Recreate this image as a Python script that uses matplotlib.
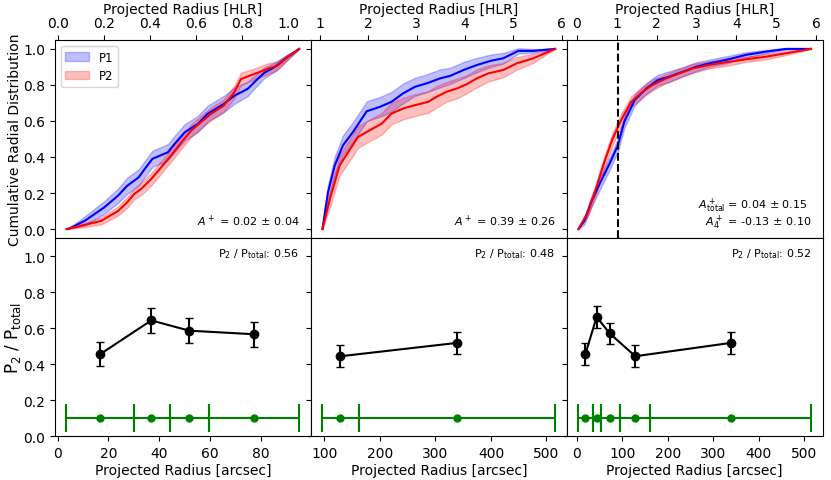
import matplotlib
matplotlib.use("Agg")
import matplotlib.pyplot as plt
import numpy as np

# ---- cumulative radial distributions (x in HLR) ----
# inner region (< 1 HLR)
in_p1_x = [0.043, 0.116, 0.20, 0.26, 0.30, 0.35, 0.376, 0.41, 0.477, 0.50, 0.55, 0.607, 0.65, 0.72, 0.766, 0.824, 0.86, 0.896, 0.94, 0.997, 1.048]
in_p1_y = [0.0, 0.046, 0.12, 0.185, 0.24, 0.287, 0.333, 0.39, 0.426, 0.463, 0.537, 0.583, 0.64, 0.694, 0.74, 0.778, 0.824, 0.867, 0.898, 0.954, 1.0]
in_p1_e = [0.0, 0.025, 0.035, 0.04, 0.045, 0.045, 0.045, 0.045, 0.045, 0.045, 0.045, 0.045, 0.045, 0.045, 0.045, 0.04, 0.035, 0.03, 0.025, 0.015, 0.0]
in_p2_x = [0.036, 0.10, 0.188, 0.26, 0.30, 0.33, 0.36, 0.405, 0.448, 0.49, 0.535, 0.578, 0.62, 0.665, 0.72, 0.766, 0.795, 0.853, 0.91, 0.954, 0.997, 1.048]
in_p2_y = [0.0, 0.018, 0.046, 0.10, 0.148, 0.194, 0.222, 0.278, 0.343, 0.407, 0.48, 0.546, 0.593, 0.64, 0.685, 0.76, 0.833, 0.861, 0.889, 0.907, 0.954, 1.0]
in_p2_e = [0.0, 0.01, 0.02, 0.025, 0.03, 0.03, 0.035, 0.035, 0.035, 0.035, 0.035, 0.035, 0.035, 0.035, 0.035, 0.035, 0.035, 0.03, 0.03, 0.025, 0.015, 0.0]

# outer region (> 1 HLR)
out_p1_x = [1.055, 1.17, 1.31, 1.48, 1.69, 1.97, 2.24, 2.48, 2.72, 2.97, 3.21, 3.48, 3.69, 3.97, 4.24, 4.52, 4.79, 5.10, 5.41, 5.86]
out_p1_y = [0.0, 0.204, 0.353, 0.465, 0.54, 0.654, 0.678, 0.706, 0.753, 0.79, 0.809, 0.836, 0.85, 0.883, 0.91, 0.933, 0.948, 0.989, 0.989, 1.0]
out_p1_e = [0.0, 0.04, 0.05, 0.055, 0.055, 0.055, 0.055, 0.055, 0.055, 0.05, 0.05, 0.05, 0.045, 0.045, 0.04, 0.035, 0.03, 0.015, 0.01, 0.0]
out_p2_x = [1.055, 1.21, 1.41, 1.59, 1.79, 2.03, 2.28, 2.48, 2.72, 2.97, 3.24, 3.41, 3.62, 3.83, 4.03, 4.24, 4.48, 4.79, 5.07, 5.41, 5.86]
out_p2_y = [0.0, 0.167, 0.353, 0.428, 0.511, 0.548, 0.585, 0.641, 0.669, 0.688, 0.706, 0.734, 0.762, 0.78, 0.803, 0.836, 0.864, 0.883, 0.92, 0.948, 1.0]
out_p2_e = [0.0, 0.045, 0.055, 0.06, 0.06, 0.06, 0.06, 0.06, 0.06, 0.06, 0.06, 0.06, 0.055, 0.055, 0.05, 0.05, 0.045, 0.04, 0.035, 0.025, 0.0]

# total
tot_p1_x = [0.04, 0.19, 0.36, 0.57, 0.82, 1.03, 1.19, 1.45, 1.74, 2.03, 2.32, 2.66, 2.99, 3.32, 3.74, 4.24, 4.75, 5.25, 5.87]
tot_p1_y = [0.0, 0.046, 0.149, 0.25, 0.362, 0.465, 0.595, 0.716, 0.78, 0.827, 0.846, 0.874, 0.901, 0.92, 0.939, 0.967, 0.985, 1.0, 1.0]
tot_p1_e = [0.0, 0.02, 0.03, 0.035, 0.035, 0.035, 0.035, 0.03, 0.03, 0.03, 0.03, 0.025, 0.025, 0.02, 0.02, 0.015, 0.01, 0.005, 0.0]
tot_p2_x = [0.04, 0.28, 0.48, 0.69, 0.90, 1.11, 1.36, 1.65, 1.90, 2.24, 2.57, 2.91, 3.32, 3.74, 4.24, 4.75, 5.25, 5.87]
tot_p2_y = [0.0, 0.093, 0.223, 0.372, 0.502, 0.604, 0.706, 0.762, 0.80, 0.836, 0.864, 0.892, 0.911, 0.926, 0.942, 0.957, 0.976, 1.0]
tot_p2_e = [0.0, 0.02, 0.03, 0.035, 0.035, 0.035, 0.03, 0.03, 0.03, 0.025, 0.025, 0.025, 0.02, 0.02, 0.015, 0.015, 0.01, 0.0]

# asymmetry annotations, one list of lines per panel
asym_texts = [[r"$A^+$ = 0.02 $\pm$ 0.04"],
              [r"$A^+$ = 0.39 $\pm$ 0.26"],
              [r"$A^+_{\rm total}$ = 0.04 $\pm$ 0.15", r"$A^+_4$ = -0.13 $\pm$ 0.10"]]
split_hlr = 1.045

# ---- P2 / Ptotal in radial bins (x in arcsec) ----
in_r = [16.8, 36.9, 51.8, 77.4]
in_frac = [0.456, 0.643, 0.586, 0.566]
in_frac_err = [0.068, 0.068, 0.068, 0.068]
in_edges = [3.5, 30.0, 44.1, 59.8, 95.1]

out_r = [128.8, 338.7]
out_frac = [0.444, 0.518]
out_frac_err = [0.06, 0.059]
out_edges = [96.4, 161.8, 515.6]

tot_r = [18.9, 43.7, 72.3, 128.8, 338.7]
tot_frac = [0.456, 0.662, 0.571, 0.444, 0.518]
tot_frac_err = [0.06, 0.06, 0.06, 0.06, 0.06]
tot_edges = [3.5, 35.0, 52.5, 95.1, 161.8, 515.6]

frac_totals = [0.56, 0.48, 0.52]

cdfs = [
    (in_p1_x, in_p1_y, in_p1_e, in_p2_x, in_p2_y, in_p2_e),
    (out_p1_x, out_p1_y, out_p1_e, out_p2_x, out_p2_y, out_p2_e),
    (tot_p1_x, tot_p1_y, tot_p1_e, tot_p2_x, tot_p2_y, tot_p2_e),
]
bins = [
    (in_r, in_frac, in_frac_err, in_edges),
    (out_r, out_frac, out_frac_err, out_edges),
    (tot_r, tot_frac, tot_frac_err, tot_edges),
]

fig, axes = plt.subplots(2, 3, figsize=(8.31, 4.81), dpi=100)
fig.subplots_adjust(left=0.066, right=0.990, top=0.915, bottom=0.091, wspace=0, hspace=0)

for i in range(3):
    ax = axes[0, i]
    x1, y1, e1, x2, y2, e2 = [np.array(a) for a in cdfs[i]]
    ax.fill_between(x1, y1 - e1, y1 + e1, color="blue", alpha=0.25, label="P1")
    ax.plot(x1, y1, color="blue", lw=1.5)
    ax.fill_between(x2, y2 - e2, y2 + e2, color="red", alpha=0.25, label="P2")
    ax.plot(x2, y2, color="red", lw=1.5)
    ax.set_ylim(-0.05, 1.05)
    ax.set_yticks([0.0, 0.2, 0.4, 0.6, 0.8, 1.0])
    ax.xaxis.tick_top()
    ax.xaxis.set_label_position("top")
    ax.set_xlabel("Projected Radius [HLR]", labelpad=2.5)
    lines = asym_texts[i]
    if len(lines) == 1:
        ax.text(0.956, 0.087, lines[0], transform=ax.transAxes, ha="right", va="center", fontsize=8)
    else:
        ax.text(0.942, 0.152, lines[0], transform=ax.transAxes, ha="right", va="baseline", fontsize=8)
        ax.text(0.956, 0.066, lines[1], transform=ax.transAxes, ha="right", va="baseline", fontsize=8)
    if i == 0:
        ax.set_ylabel("Cumulative Radial Distribution")
        ax.yaxis.set_label_coords(-0.127, 0.5)
        ax.legend(loc="upper left", fontsize=8.5)
    else:
        ax.tick_params(labelleft=False)
    if i == 2:
        ax.axvline(split_hlr, color="black", ls="--", lw=1.5)

axes[0, 0].set_xticks([0.0, 0.2, 0.4, 0.6, 0.8, 1.0])
axes[0, 1].set_xticks([1, 2, 3, 4, 5, 6])
axes[0, 2].set_xticks([0, 1, 2, 3, 4, 5, 6])

for i in range(3):
    ax = axes[1, i]
    r, f, fe, edges = bins[i]
    ax.errorbar(r, f, yerr=fe, fmt="o-", color="black", ms=6, lw=1.5, capsize=3, elinewidth=1.5)
    r = np.array(r)
    edges = np.array(edges)
    ax.errorbar(r, [0.1] * len(r), xerr=[r - edges[:-1], edges[1:] - r], fmt="o",
                color="green", ms=5, lw=1.5, capsize=10, elinewidth=1.5, capthick=1.5)
    ax.set_ylim(0, 1.1)
    ax.set_yticks([0.0, 0.2, 0.4, 0.6, 0.8, 1.0])
    ax.set_xlabel("Projected Radius [arcsec]", labelpad=2.5)
    ax.text(0.956, 0.925, r"P$_2$ / P$_{\rm total}$: %.2f" % frac_totals[i],
            transform=ax.transAxes, ha="right", va="center", fontsize=8)
    if i == 0:
        ax.set_ylabel(r"P$_2$ / P$_{\rm total}$", fontsize=12)
        ax.yaxis.set_label_coords(-0.125, 0.5)
    else:
        ax.tick_params(labelleft=False)

axes[1, 0].set_xticks([0, 20, 40, 60, 80])
axes[1, 1].set_xticks([100, 200, 300, 400, 500])
axes[1, 2].set_xticks([0, 100, 200, 300, 400, 500])

fig.savefig("out.png", dpi=100)
